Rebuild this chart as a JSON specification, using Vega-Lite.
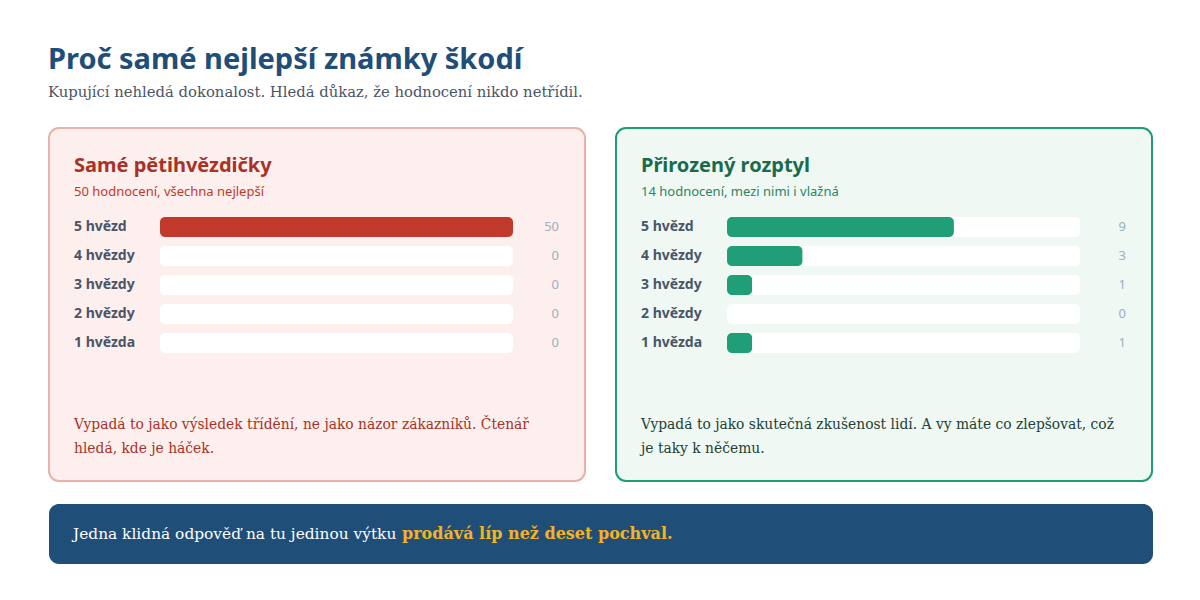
{
  "$schema": "https://vega.github.io/schema/vega-lite/v6.json",
  "background": "white",
  "padding": {"left": 48, "top": 46, "right": 40, "bottom": 20},
  "title": {
    "text": "Proč samé nejlepší známky škodí",
    "subtitle": "Kupující nehledá dokonalost. Hledá důkaz, že hodnocení nikdo netřídil.",
    "anchor": "start",
    "font": "Noto Sans",
    "fontSize": 29,
    "fontWeight": "bold",
    "color": "#1f4e79",
    "subtitleFont": "DejaVu Serif",
    "subtitleFontSize": 14.8,
    "subtitleColor": "#4a5568",
    "subtitlePadding": 10,
    "offset": 27
  },
  "config": {
    "view": {"stroke": null}
  },
  "spacing": 22,
  "vconcat": [
    {
      "spacing": 29,
      "hconcat": [
        {
          "width": 536,
          "height": 353,
          "view": {"fill": "#fcefed", "stroke": "#e8b2aa", "strokeWidth": 2, "cornerRadius": 10},
          "data": {
            "values": [
              {"stars": 5, "label": "5 hvězd", "count": 50},
              {"stars": 4, "label": "4 hvězdy", "count": 0},
              {"stars": 3, "label": "3 hvězdy", "count": 0},
              {"stars": 2, "label": "2 hvězdy", "count": 0},
              {"stars": 1, "label": "1 hvězda", "count": 0}
            ]
          },
          "layer": [
            {
              "mark": {"type": "bar", "orient": "horizontal", "size": 20, "cornerRadius": 5, "color": "#ffffff"},
              "encoding": {
                "y": {"field": "stars", "type": "quantitative", "scale": {"domain": [1, 5], "range": [215, 99], "nice": false, "zero": false, "padding": 0}, "axis": null},
                "x": {"datum": 50, "type": "quantitative", "scale": {"domain": [0, 50], "range": [111, 464], "nice": false}, "axis": null}
              }
            },
            {
              "mark": {"type": "bar", "orient": "horizontal", "size": 20, "cornerRadius": 5, "color": "#c0392b"},
              "encoding": {
                "y": {"field": "stars", "type": "quantitative"},
                "x": {"field": "count", "type": "quantitative"}
              }
            },
            {
              "mark": {"type": "text", "align": "left", "baseline": "middle", "font": "Noto Sans", "fontSize": 14, "fontWeight": "bold", "color": "#4a5568"},
              "encoding": {
                "y": {"field": "stars", "type": "quantitative"},
                "x": {"datum": -12.18},
                "text": {"field": "label"}
              }
            },
            {
              "mark": {"type": "text", "align": "right", "baseline": "middle", "font": "Noto Sans", "fontSize": 13, "color": "#a0aec0"},
              "encoding": {
                "y": {"field": "stars", "type": "quantitative"},
                "x": {"datum": 56.52},
                "text": {"field": "count"}
              }
            },
            {
              "data": {"values": [{"heading": "Samé pětihvězdičky"}]},
              "mark": {"type": "text", "align": "left", "baseline": "alphabetic", "font": "Noto Sans", "fontSize": 20, "fontWeight": "bold", "color": "#a93226"},
              "encoding": {"x": {"datum": -12.18}, "y": {"datum": 6.907}, "text": {"field": "heading"}}
            },
            {
              "data": {"values": [{"note": "50 hodnocení, všechna nejlepší"}]},
              "mark": {"type": "text", "align": "left", "baseline": "alphabetic", "font": "Noto Sans", "fontSize": 13, "color": "#c0392b"},
              "encoding": {"x": {"datum": -12.18}, "y": {"datum": 6.079}, "text": {"field": "note"}}
            },
            {
              "data": {"values": [{"caption": ["Vypadá to jako výsledek třídění, ne jako názor zákazníků. Čtenář", "hledá, kde je háček."]}]},
              "mark": {"type": "text", "align": "left", "baseline": "alphabetic", "font": "DejaVu Serif", "fontSize": 13.85, "lineHeight": 24, "color": "#a93226"},
              "encoding": {"x": {"datum": -12.18}, "y": {"datum": -1.98}, "text": {"field": "caption"}}
            }
          ]
        },
        {
          "width": 536,
          "height": 353,
          "view": {"fill": "#eff8f3", "stroke": "#1e9e74", "strokeWidth": 2, "cornerRadius": 10},
          "data": {
            "values": [
              {"stars": 5, "label": "5 hvězd", "count": 9},
              {"stars": 4, "label": "4 hvězdy", "count": 3},
              {"stars": 3, "label": "3 hvězdy", "count": 1},
              {"stars": 2, "label": "2 hvězdy", "count": 0},
              {"stars": 1, "label": "1 hvězda", "count": 1}
            ]
          },
          "layer": [
            {
              "mark": {"type": "bar", "orient": "horizontal", "size": 20, "cornerRadius": 5, "color": "#ffffff"},
              "encoding": {
                "y": {"field": "stars", "type": "quantitative", "scale": {"domain": [1, 5], "range": [215, 99], "nice": false, "zero": false, "padding": 0}, "axis": null},
                "x": {"datum": 14, "type": "quantitative", "scale": {"domain": [0, 14], "range": [111, 464], "nice": false}, "axis": null}
              }
            },
            {
              "mark": {"type": "bar", "orient": "horizontal", "size": 20, "cornerRadius": 5, "color": "#1f9e77"},
              "encoding": {
                "y": {"field": "stars", "type": "quantitative"},
                "x": {"field": "count", "type": "quantitative"}
              }
            },
            {
              "mark": {"type": "text", "align": "left", "baseline": "middle", "font": "Noto Sans", "fontSize": 14, "fontWeight": "bold", "color": "#4a5568"},
              "encoding": {
                "y": {"field": "stars", "type": "quantitative"},
                "x": {"datum": -3.411},
                "text": {"field": "label"}
              }
            },
            {
              "mark": {"type": "text", "align": "right", "baseline": "middle", "font": "Noto Sans", "fontSize": 13, "color": "#a0aec0"},
              "encoding": {
                "y": {"field": "stars", "type": "quantitative"},
                "x": {"datum": 15.825},
                "text": {"field": "count"}
              }
            },
            {
              "data": {"values": [{"heading": "Přirozený rozptyl"}]},
              "mark": {"type": "text", "align": "left", "baseline": "alphabetic", "font": "Noto Sans", "fontSize": 20, "fontWeight": "bold", "color": "#1a6b4b"},
              "encoding": {"x": {"datum": -3.411}, "y": {"datum": 6.907}, "text": {"field": "heading"}}
            },
            {
              "data": {"values": [{"note": "14 hodnocení, mezi nimi i vlažná"}]},
              "mark": {"type": "text", "align": "left", "baseline": "alphabetic", "font": "Noto Sans", "fontSize": 13, "color": "#2b8565"},
              "encoding": {"x": {"datum": -3.411}, "y": {"datum": 6.079}, "text": {"field": "note"}}
            },
            {
              "data": {"values": [{"caption": ["Vypadá to jako skutečná zkušenost lidí. A vy máte co zlepšovat, což", "je taky k něčemu."]}]},
              "mark": {"type": "text", "align": "left", "baseline": "alphabetic", "font": "DejaVu Serif", "fontSize": 13.85, "lineHeight": 24, "color": "#233f36"},
              "encoding": {"x": {"datum": -3.411}, "y": {"datum": -1.98}, "text": {"field": "caption"}}
            }
          ]
        }
      ]
    },
    {
      "width": 1104,
      "height": 60,
      "view": {"fill": "#1f4e79", "stroke": null, "cornerRadius": 10},
      "data": {
        "values": [
          {"part": "lead", "text": "Jedna klidná odpověď na tu jedinou výtku"},
          {"part": "accent", "text": "prodává líp než deset pochval."}
        ]
      },
      "encoding": {
        "x": {"field": "part", "type": "nominal", "scale": {"type": "point", "domain": ["lead", "accent"], "range": [24, 353], "padding": 0}, "axis": null},
        "text": {"field": "text"}
      },
      "layer": [
        {
          "transform": [{"filter": "datum.part == 'lead'"}],
          "mark": {"type": "text", "align": "left", "baseline": "middle", "font": "DejaVu Serif", "fontSize": 15.4, "color": "#ffffff"}
        },
        {
          "transform": [{"filter": "datum.part == 'accent'"}],
          "mark": {"type": "text", "align": "left", "baseline": "middle", "font": "DejaVu Serif", "fontSize": 16, "fontWeight": "bold", "color": "#f5b324"}
        }
      ]
    }
  ]
}
